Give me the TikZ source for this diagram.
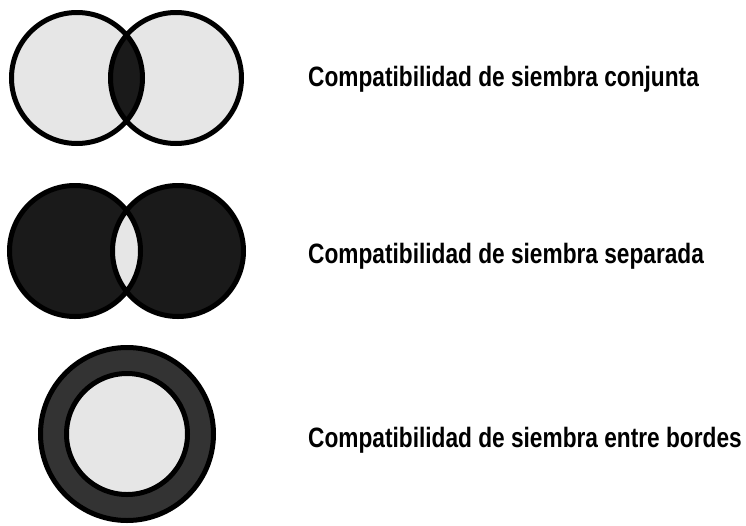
\documentclass[tikz,border=0pt]{standalone}
\usepackage{fontspec}
\setmainfont{Liberation Sans}[FakeStretch=0.81]
\usetikzlibrary{positioning}
\definecolor{cLight}{HTML}{E6E6E6}
\definecolor{cDark}{HTML}{1A1A1A}
\definecolor{cRing}{HTML}{333333}
\tikzset{
  rim/.style={draw=black, line width=5pt},
  caption/.style={font=\fontsize{28}{30}\selectfont\bfseries, anchor=base west,
                  inner sep=0pt},
}

\begin{document}
\begin{tikzpicture}[x=1pt, y=-1pt]
\useasboundingbox (0,0) rectangle (746,525);

\def\r{65.5}   % radius of a seed circle
\def\tx{308}   % x of the captions

%% ── together: the overlap is dark ────────────────────────────────────────
\coordinate (aL) at (77,78);
\coordinate (aR) at (176,78);
\fill[cLight] (aL) circle (\r) (aR) circle (\r);
\begin{scope}
  \clip (aL) circle (\r);
  \fill[cDark] (aR) circle (\r);
\end{scope}
\draw[rim] (aL) circle (\r) (aR) circle (\r);
\node[caption] (conj) at (\tx,86) {Compatibilidad de siembra conjunta};

%% ── apart: the overlap is light ──────────────────────────────────────────
\coordinate (bL) at (75,251);
\coordinate (bR) at (178,251);
\fill[cDark] (bL) circle (\r) (bR) circle (\r);
\begin{scope}
  \clip (bL) circle (\r);
  \fill[cLight] (bR) circle (\r);
\end{scope}
\draw[rim] (bL) circle (\r) (bR) circle (\r);
\node[caption] (sep) at (\tx,263) {Compatibilidad de siembra separada};

%% ── at the borders: a ring round the core ────────────────────────────────
\coordinate (c) at (127,434);
\draw[rim, fill=cRing] (c) circle (86.5);
\draw[rim, fill=cLight] (c) circle (60.5);
\node[caption] (bord) at (\tx,447) {Compatibilidad de siembra entre bordes};

\end{tikzpicture}
\end{document}
